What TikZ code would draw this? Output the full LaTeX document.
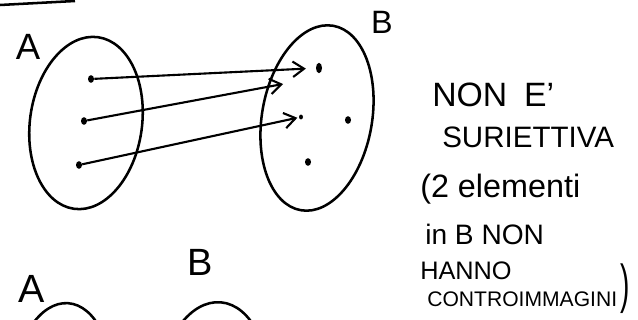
\documentclass[tikz,border=0pt]{standalone}
\usepackage{fontspec}
\setmainfont{Liberation Sans}
\usetikzlibrary{shapes.geometric, arrows.meta}

\begin{document}
\begin{tikzpicture}[
    x=0.025cm, y=-0.025cm,
    pen/.style={line width=1.8pt, black},
    blob/.style={ellipse, draw, line width=1.8pt, inner sep=0pt},
    elem/.style={ellipse, fill=black, inner sep=0pt,
                 minimum width=0.15cm, minimum height=0.19cm},
    arr/.style={-{Straight Barb[length=8pt, width=11pt]}, line width=1.5pt},
    setlbl/.style={font=\fontsize{26}{26}\selectfont, inner sep=0pt},
    note/.style={anchor=base west, inner sep=0pt}
]
\useasboundingbox (0,0) rectangle (638,320);
\clip (0,0) rectangle (638,320);

% stray underline
\draw[pen] (0,5) -- (75,1);

% Sets A and B
\node[blob, minimum width=2.8cm, minimum height=4.33cm, rotate=-8] (setA) at (86,123) {};
\node[blob, minimum width=2.75cm, minimum height=4.68cm, rotate=-10] (setB) at (317,118) {};
\node[setlbl] (labA) at (28,47) {A};
\node[setlbl, font=\fontsize{23}{23}\selectfont] (labB) at (382,22) {B};

% Elements
\node[elem] (a1) at (91,79)  {};
\node[elem] (a2) at (84,121) {};
\node[elem] (a3) at (79,165) {};
\node[elem, minimum height=0.26cm] (b1) at (319,68) {};
\node[elem, minimum width=0.1cm, minimum height=0.12cm] (b2) at (301,117) {};
\node[elem] (b3) at (348,120) {};
\node[elem] (b4) at (308,162) {};
\coordinate (tipM) at (283,84);

% Arrows
\draw[arr, shorten >=7pt] (a1) -- (b1);
\draw[arr] (a2) -- (tipM);
\draw[arr, shorten >=1pt] (a3) -- (b2);

% Note
\node[note, font=\fontsize{24}{24}\selectfont] (n1) at (432,107) {NON\hspace{0.5em}E'};
\node[note, font=\fontsize{21}{21}\selectfont] (n2) at (442,148) {SURIETTIVA};
\node[note, font=\fontsize{23}{23}\selectfont] (n3) at (420,198) {(2 elementi};
\node[note, font=\fontsize{20}{20}\selectfont] (n4) at (425,245) {in B NON};
\node[note, font=\fontsize{18}{18}\selectfont] (n5) at (420,280) {HANNO};
\node[note, font=\fontsize{15}{15}\selectfont] (n6) at (427,307) {CONTROIMMAGINI};
\node[inner sep=0pt] (n7) at (625,289) {\scalebox{1}[1.9]{\fontsize{20}{20}\selectfont )}};

% Second pair of sets (cut off)
\node[blob, minimum width=2.5cm, minimum height=4.35cm, rotate=-4] (setA2) at (62,390) {};
\node[blob, minimum width=2.75cm, minimum height=4.5cm, rotate=-5] (setB2) at (213,392) {};
\node[setlbl, font=\fontsize{28}{28}\selectfont] (labA2) at (32,289) {A};
\node[setlbl, font=\fontsize{27}{27}\selectfont] (labB2) at (200,262) {B};

\end{tikzpicture}
\end{document}
